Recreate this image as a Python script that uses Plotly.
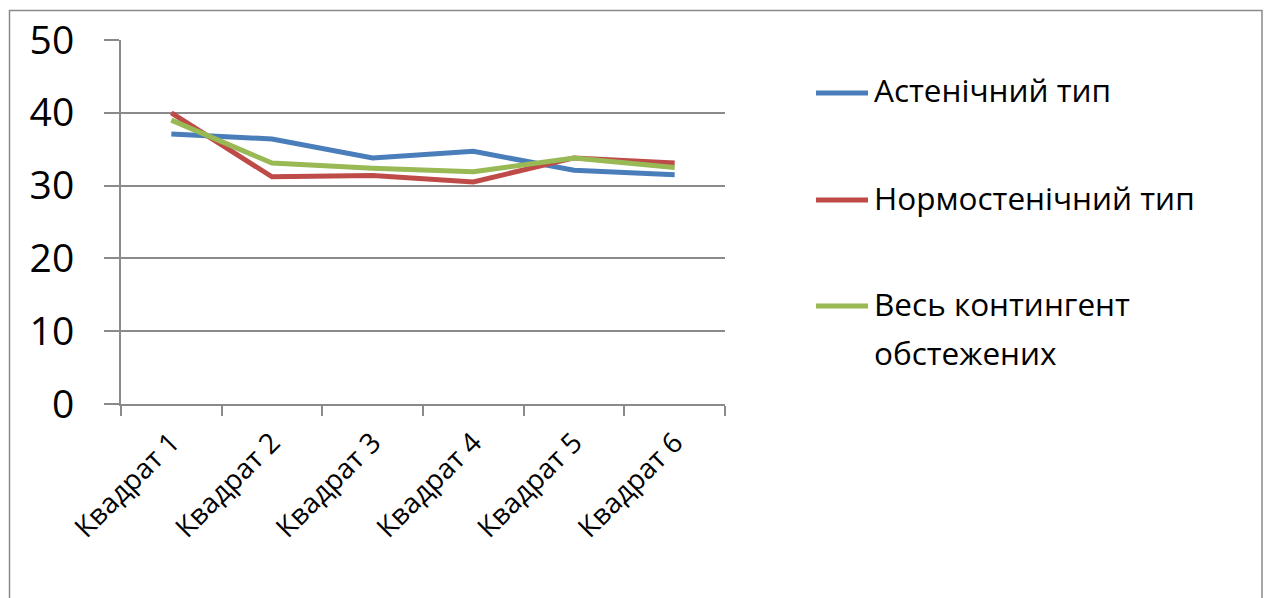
import plotly.graph_objects as go

# Categories and series values
categories = ["Квадрат 1", "Квадрат 2", "Квадрат 3", "Квадрат 4", "Квадрат 5", "Квадрат 6"]
asthenic = [37.1, 36.4, 33.8, 34.7, 32.1, 31.5]
normosthenic = [40.0, 31.2, 31.4, 30.5, 33.8, 33.1]
all_subjects = [39.0, 33.1, 32.4, 31.9, 33.8, 32.5]

series_names = ["Астенічний тип", "Нормостенічний тип", "Весь контингент обстежених"]
# legend label lines for each series
legend_lines = [["Астенічний тип"], ["Нормостенічний тип"], ["Весь контингент", "обстежених"]]
series_values = [asthenic, normosthenic, all_subjects]
colors = ["#4A7EBB", "#BE4B48", "#98B954"]

y_ticks = [0, 10, 20, 30, 40, 50]

W, H = 1268, 598
L, R, T, B = 121, 725, 40, 404  # plot area in pixels

FONT = "Open Sans"

fig = go.Figure()
for name, vals, col in zip(series_names, series_values, colors):
    fig.add_trace(go.Scatter(
        x=categories, y=vals, mode="lines", name=name,
        line=dict(color=col, width=5), showlegend=False,
    ))


def px_x(px):
    return (px - L) / (R - L)


def px_y(py):
    return (B - py) / (B - T)


shapes = []
annotations = []
# outer chart frame
shapes.append(dict(type="rect", xref="paper", yref="paper",
                   x0=px_x(9.5), x1=px_x(1262), y0=px_y(10.5), y1=px_y(640),
                   line=dict(color="#8A8A8A", width=1.5), fillcolor="rgba(0,0,0,0)", layer="below"))

# legend: line key + label lines
legend_rows = [93, 200, 306]
LINE_STEP = 49
TEXT_SHIFT = -3
for lines, col, py in zip(legend_lines, colors, legend_rows):
    shapes.append(dict(type="line", xref="paper", yref="paper",
                       x0=px_x(816), x1=px_x(868), y0=px_y(py), y1=px_y(py),
                       line=dict(color=col, width=5)))
    for i, txt in enumerate(lines):
        annotations.append(dict(xref="paper", yref="paper", x=px_x(872),
                                y=px_y(py + TEXT_SHIFT + i * LINE_STEP),
                                text=txt, showarrow=False, xanchor="left", yanchor="middle",
                                font=dict(family=FONT, size=31.5, color="#000000")))

fig.update_layout(
    width=W, height=H,
    margin=dict(l=L, r=W - R, t=T, b=H - B, pad=0),
    paper_bgcolor="white", plot_bgcolor="white",
    shapes=shapes, annotations=annotations,
    xaxis=dict(
        type="category", categoryorder="array", categoryarray=categories,
        range=[-0.5, len(categories) - 0.5],
        tickson="boundaries", ticks="outside", ticklen=10, tickwidth=2, tickcolor="#8A8A8A",
        showline=True, linecolor="#8A8A8A", linewidth=2,
        showgrid=False, zeroline=False, ticklabelstandoff=9,
        tickangle=-45, tickfont=dict(family=FONT, size=28, color="#000000"),
    ),
    yaxis=dict(
        range=[0, 50], tickvals=y_ticks,
        ticks="outside", ticklen=15, tickwidth=2, tickcolor="#8A8A8A",
        showline=True, linecolor="#8A8A8A", linewidth=2,
        showgrid=True, gridcolor="#8A8A8A", gridwidth=2,
        zeroline=False, ticklabelstandoff=22,
        tickfont=dict(family=FONT, size=39, color="#000000"),
    ),
)

fig.write_html("out.html")
